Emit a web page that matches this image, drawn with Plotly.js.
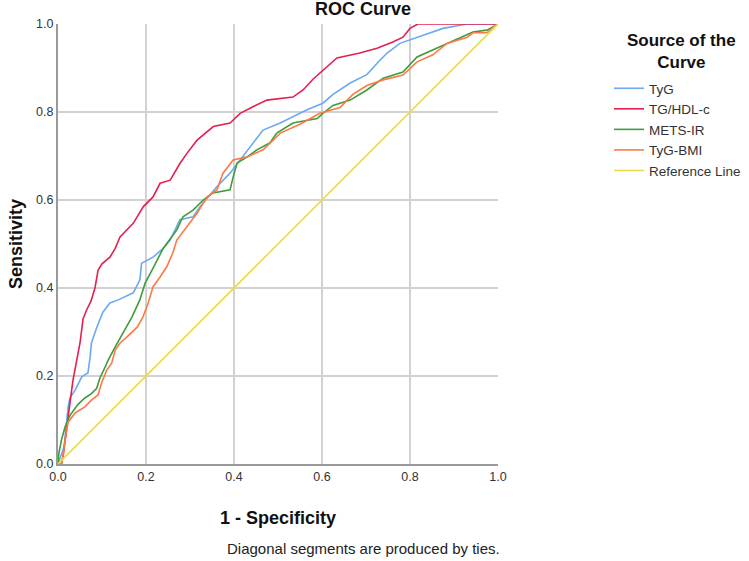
<!DOCTYPE html>
<html>
<head>
<meta charset="utf-8">
<script src="https://cdn.plot.ly/plotly-3.0.1.min.js"></script>
<style>html,body{margin:0;padding:0;background:#fff;}#chart{width:749px;height:561px;}</style>
</head>
<body>
<div id="chart"></div>
<script>
var seriesNames = ["TyG", "TG/HDL-c", "METS-IR", "TyG-BMI", "Reference Line"];

var tygX = [0,0.014,0.02,0.023,0.027,0.039,0.054,0.068,0.073,0.076,0.088,0.102,0.118,0.137,0.171,0.179,0.186,0.19,0.216,0.239,0.255,0.277,0.307,0.323,0.361,0.391,0.414,0.443,0.466,0.505,0.534,0.566,0.602,0.625,0.664,0.702,0.732,0.748,0.777,0.816,0.875,0.93,1];
var tygY = [0,0.04,0.1,0.13,0.15,0.168,0.198,0.207,0.243,0.275,0.31,0.345,0.366,0.373,0.389,0.403,0.418,0.456,0.47,0.49,0.509,0.555,0.562,0.585,0.63,0.661,0.691,0.729,0.759,0.775,0.789,0.805,0.82,0.84,0.866,0.885,0.918,0.934,0.956,0.97,0.99,1,1];

var tghdlX = [0,0.008,0.012,0.02,0.027,0.034,0.042,0.05,0.057,0.065,0.075,0.084,0.091,0.1,0.118,0.13,0.141,0.171,0.194,0.216,0.232,0.255,0.277,0.293,0.316,0.353,0.391,0.414,0.443,0.475,0.534,0.557,0.58,0.602,0.634,0.686,0.725,0.761,0.784,0.8,0.818,1];
var tghdlY = [0,0,0.02,0.077,0.138,0.19,0.229,0.275,0.33,0.35,0.37,0.4,0.44,0.455,0.47,0.49,0.516,0.547,0.585,0.607,0.638,0.645,0.683,0.706,0.736,0.767,0.775,0.797,0.812,0.827,0.834,0.85,0.875,0.895,0.923,0.934,0.945,0.959,0.97,0.99,1,1];

var metsX = [0,0.002,0.008,0.016,0.027,0.045,0.061,0.076,0.088,0.095,0.107,0.114,0.13,0.148,0.168,0.186,0.198,0.214,0.239,0.27,0.284,0.307,0.33,0.352,0.391,0.398,0.407,0.43,0.452,0.482,0.497,0.534,0.589,0.602,0.625,0.664,0.702,0.739,0.784,0.816,0.852,0.891,0.93,0.943,0.975,1];
var metsY = [0,0.025,0.055,0.084,0.11,0.135,0.15,0.16,0.172,0.195,0.22,0.236,0.266,0.298,0.334,0.373,0.411,0.441,0.49,0.532,0.562,0.577,0.6,0.616,0.623,0.652,0.684,0.698,0.714,0.73,0.752,0.775,0.785,0.797,0.815,0.827,0.85,0.877,0.891,0.925,0.941,0.959,0.975,0.982,0.986,1];

var tygbmiX = [0,0.008,0.013,0.016,0.023,0.039,0.061,0.076,0.091,0.099,0.111,0.122,0.13,0.141,0.157,0.18,0.193,0.205,0.216,0.232,0.248,0.261,0.27,0.293,0.316,0.339,0.361,0.375,0.398,0.43,0.466,0.489,0.505,0.55,0.595,0.641,0.67,0.702,0.739,0.784,0.816,0.852,0.884,0.93,0.943,0.975,0.989,1];
var tygbmiY = [0,0,0.03,0.055,0.095,0.116,0.13,0.145,0.157,0.184,0.214,0.229,0.259,0.275,0.289,0.311,0.334,0.366,0.403,0.425,0.45,0.48,0.509,0.539,0.57,0.607,0.623,0.661,0.691,0.698,0.714,0.736,0.752,0.772,0.797,0.81,0.84,0.86,0.873,0.884,0.914,0.93,0.956,0.97,0.98,0.98,0.993,1];

var refX = [0, 1];
var refY = [0, 1];

var tickVals = [0, 0.2, 0.4, 0.6, 0.8, 1.0];
var tickText = ["0.0", "0.2", "0.4", "0.6", "0.8", "1.0"];

var colors = ["#6aaaf2", "#e2214f", "#3f9b3c", "#fb7a45", "#e8dc4a"];
var xs = [tygX, tghdlX, metsX, tygbmiX, refX];
var ys = [tygY, tghdlY, metsY, tygbmiY, refY];

var traces = seriesNames.map(function (n, i) {
  return {
    type: "scatter", mode: "lines", name: n,
    x: xs[i], y: ys[i],
    line: {color: colors[i], width: 1.6, shape: "linear"},
    hoverinfo: "skip"
  };
});

var font = "Liberation Sans, Arial, sans-serif";
var axisCommon = {
  range: [0, 1], tickvals: tickVals, ticktext: tickText,
  showgrid: true, gridcolor: "#d2d2d2", gridwidth: 1.5,
  zeroline: false, showline: true, linecolor: "#9a9a9a", linewidth: 2,
  ticks: "", tickfont: {family: font, size: 12.5, color: "#333"},
  fixedrange: true, automargin: false
};

var layout = {
  width: 749, height: 561,
  margin: {l: 58, r: 251, t: 24, b: 97, autoexpand: false},
  paper_bgcolor: "#fff", plot_bgcolor: "#fff",
  title: {text: "<b>ROC Curve</b>", font: {family: font, size: 18, color: "#111"},
          xref: "container", x: 363 / 749, xanchor: "center", yref: "container", y: 1 - 9/561, yanchor: "middle"},
  xaxis: Object.assign({}, axisCommon, {
    title: {text: "<b>1 - Specificity</b>", font: {family: font, size: 18, color: "#111"}, standoff: 28}
  }),
  yaxis: Object.assign({}, axisCommon, {
    title: {text: "<b>Sensitivity</b>", font: {family: font, size: 18, color: "#111"}, standoff: 9}
  }),
  showlegend: true,
  legend: {
    x: (609 - 58) / 440, xanchor: "left", y: 1 - (73 - 24) / 440, yanchor: "top",
    font: {family: font, size: 13.5, color: "#333"},
    bgcolor: "rgba(0,0,0,0)", tracegroupgap: 0
  },
  annotations: [
    {text: "<b>Source of the<br>Curve</b>", showarrow: false, xref: "paper", yref: "paper",
     x: (681 - 58) / 440, y: (464 - 51) / 440, xanchor: "center", yanchor: "middle", align: "center",
     font: {family: font, size: 17, color: "#111"}},
    {text: "Diagonal segments are produced by ties.", showarrow: false,
     xref: "paper", yref: "paper", x: (363 - 58) / 440, y: -(548 - 464) / 440,
     xanchor: "center", yanchor: "middle",
     font: {family: font, size: 15, color: "#222"}}
  ]
};

Plotly.newPlot("chart", traces, layout, {displayModeBar: false, staticPlot: true});
</script>
</body>
</html>
